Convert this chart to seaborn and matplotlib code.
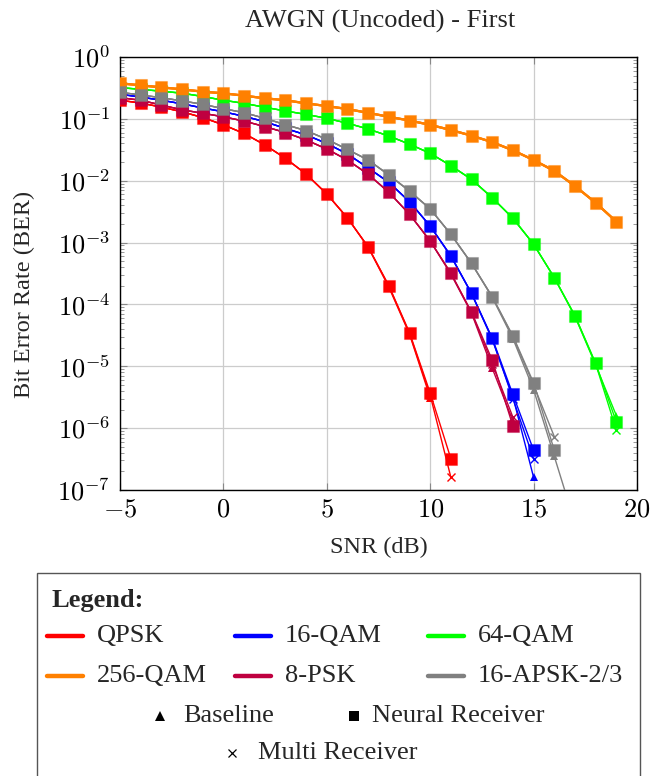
import numpy as np
import pandas as pd
import matplotlib
matplotlib.use("Agg")
import matplotlib.pyplot as plt
import seaborn as sns
from matplotlib.lines import Line2D
from matplotlib.patches import Rectangle
from matplotlib.ticker import FixedLocator, FixedFormatter, LogLocator, NullFormatter

# ---------------- data ----------------
title = "AWGN (Uncoded) - First"
modulations = ["QPSK", "16-QAM", "64-QAM", "256-QAM", "8-PSK", "16-APSK-2/3"]
colors = ["#FF0000", "#0000FF", "#00FF00", "#FF8000", "#BF0040", "#808080"]
receivers = ["Baseline", "Neural Receiver", "Multi Receiver"]

qpsk_snr = list(range(-5, 12))
qpsk_neural = [0.2, 0.18, 0.155, 0.13, 0.105, 0.08, 0.058, 0.038, 0.023, 0.0128, 0.0061, 0.0025, 0.00085, 0.0002, 3.5e-5, 3.7e-6, 3.2e-7]
qpsk_base = [0.2, 0.18, 0.155, 0.13, 0.105, 0.08, 0.058, 0.038, 0.023, 0.0128, 0.0061, 0.0025, 0.00084, 0.00019, 3.3e-5, 3.1e-6]
qpsk_multi = [0.2, 0.18, 0.155, 0.13, 0.105, 0.08, 0.058, 0.038, 0.023, 0.0128, 0.0061, 0.0025, 0.00085, 0.0002, 3.4e-5, 3.4e-6, 1.6e-7]

qam16_snr = list(range(-5, 16))
qam16_neural = [0.25, 0.225, 0.2, 0.175, 0.15, 0.13, 0.11, 0.09, 0.07, 0.055, 0.04, 0.027, 0.0161, 0.0094, 0.00458, 0.00185, 6.1e-4, 1.51e-4, 2.84e-5, 3.5e-6, 4.4e-7]
qam16_base = [0.25, 0.225, 0.2, 0.175, 0.15, 0.13, 0.11, 0.09, 0.07, 0.055, 0.04, 0.027, 0.0161, 0.0094, 0.00458, 0.00185, 6.0e-4, 1.5e-4, 2.7e-5, 3.2e-6, 1.6e-7]
qam16_multi = [0.25, 0.225, 0.2, 0.175, 0.15, 0.13, 0.11, 0.09, 0.07, 0.055, 0.04, 0.027, 0.0161, 0.0094, 0.00458, 0.00185, 6.1e-4, 1.5e-4, 2.8e-5, 3.0e-6, 3.2e-7]

qam64_snr = list(range(-5, 20))
qam64_neural = [0.32, 0.3, 0.28, 0.26, 0.23, 0.2, 0.178, 0.154, 0.134, 0.118, 0.102, 0.085, 0.0685, 0.0528, 0.039, 0.0277, 0.0175, 0.0105, 0.0053, 0.00247, 9.4e-4, 2.71e-4, 6.6e-5, 1.12e-5, 1.26e-6]
qam64_base = [0.32, 0.3, 0.28, 0.26, 0.23, 0.2, 0.178, 0.154, 0.134, 0.118, 0.102, 0.085, 0.0685, 0.0528, 0.039, 0.0277, 0.0175, 0.0105, 0.0053, 0.00247, 9.4e-4, 2.71e-4, 6.4e-5, 1.05e-5, 1.6e-6]
qam64_multi = [0.32, 0.3, 0.28, 0.26, 0.23, 0.2, 0.178, 0.154, 0.134, 0.118, 0.102, 0.085, 0.0685, 0.0528, 0.039, 0.0277, 0.0175, 0.0105, 0.0053, 0.00247, 9.4e-4, 2.71e-4, 6.5e-5, 1.1e-5, 9.3e-7]

qam256_snr = list(range(-5, 20))
qam256_neural = [0.376, 0.348, 0.323, 0.3, 0.275, 0.259, 0.237, 0.215, 0.2, 0.178, 0.161, 0.144, 0.125, 0.108, 0.094, 0.08, 0.066, 0.0535, 0.042, 0.031, 0.0216, 0.0144, 0.0082, 0.0044, 0.00218]
qam256_base = [0.376, 0.348, 0.323, 0.3, 0.275, 0.259, 0.237, 0.215, 0.2, 0.178, 0.161, 0.144, 0.125, 0.108, 0.094, 0.08, 0.066, 0.0535, 0.042, 0.031, 0.0216, 0.0144, 0.0082, 0.0044, 0.00218]
qam256_multi = [0.376, 0.348, 0.323, 0.3, 0.275, 0.259, 0.237, 0.215, 0.2, 0.178, 0.161, 0.144, 0.125, 0.108, 0.094, 0.08, 0.066, 0.0535, 0.042, 0.031, 0.0216, 0.0144, 0.0082, 0.0044, 0.00218]

psk8_snr = list(range(-5, 15))
psk8_neural = [0.22, 0.2, 0.167, 0.14, 0.123, 0.108, 0.092, 0.075, 0.06, 0.0456, 0.0325, 0.0216, 0.0127, 0.0065, 0.00287, 0.00106, 3.2e-4, 7.5e-5, 1.26e-5, 1.08e-6]
psk8_base = [0.22, 0.2, 0.167, 0.14, 0.123, 0.108, 0.092, 0.075, 0.06, 0.0456, 0.0325, 0.0216, 0.0127, 0.0065, 0.00287, 0.00106, 3.1e-4, 7.2e-5, 9.3e-6, 1.3e-6]
psk8_multi = [0.22, 0.2, 0.167, 0.14, 0.123, 0.108, 0.092, 0.075, 0.06, 0.0456, 0.0325, 0.0216, 0.0127, 0.0065, 0.00287, 0.00106, 3.2e-4, 7.4e-5, 1.1e-5, 1.5e-6]

apsk_snr = list(range(-5, 17))
apsk_neural = [0.269, 0.243, 0.22, 0.195, 0.172, 0.146, 0.126, 0.102, 0.0805, 0.0645, 0.0467, 0.032, 0.0216, 0.0124, 0.0068, 0.0035, 0.00136, 4.6e-4, 1.33e-4, 3.1e-5, 5.4e-6, 4.4e-7]
apsk_base_snr = list(range(-5, 18))
apsk_base = [0.269, 0.243, 0.22, 0.195, 0.172, 0.146, 0.126, 0.102, 0.0805, 0.0645, 0.0467, 0.032, 0.0216, 0.0124, 0.0068, 0.0035, 0.00136, 4.6e-4, 1.3e-4, 2.8e-5, 4.2e-6, 3.5e-7, 2.9e-8]
apsk_multi = [0.269, 0.243, 0.22, 0.195, 0.172, 0.146, 0.126, 0.102, 0.0805, 0.0645, 0.0467, 0.032, 0.0216, 0.0124, 0.0068, 0.0035, 0.00136, 4.6e-4, 1.33e-4, 3.0e-5, 5.0e-6, 7.3e-7]

x_ticks = [-5, 0, 5, 10, 15, 20]
x_tick_labels = ["$-5$", "$0$", "$5$", "$10$", "$15$", "$20$"]
y_ticks = [1e-7, 1e-6, 1e-5, 1e-4, 1e-3, 1e-2, 1e-1, 1e0]
y_tick_labels = ["$10^{-7}$", "$10^{-6}$", "$10^{-5}$", "$10^{-4}$", "$10^{-3}$", "$10^{-2}$", "$10^{-1}$", "$10^{0}$"]

series = {
    "QPSK": [(qpsk_snr[:len(qpsk_base)], qpsk_base), (qpsk_snr, qpsk_neural), (qpsk_snr, qpsk_multi)],
    "16-QAM": [(qam16_snr, qam16_base), (qam16_snr, qam16_neural), (qam16_snr, qam16_multi)],
    "64-QAM": [(qam64_snr, qam64_base), (qam64_snr, qam64_neural), (qam64_snr, qam64_multi)],
    "256-QAM": [(qam256_snr, qam256_base), (qam256_snr, qam256_neural), (qam256_snr, qam256_multi)],
    "8-PSK": [(psk8_snr, psk8_base), (psk8_snr, psk8_neural), (psk8_snr, psk8_multi)],
    "16-APSK-2/3": [(apsk_base_snr, apsk_base), (apsk_snr, apsk_neural), (apsk_snr, apsk_multi)],
}

# ---------------- style ----------------
sns.set_theme(style="ticks")
plt.rcParams["font.family"] = ["Liberation Serif", "DejaVu Serif"]
plt.rcParams["mathtext.fontset"] = "cm"

W, H = 669, 776
fig = plt.figure(figsize=(W / 100, H / 100), dpi=100)
ax = fig.add_axes([120 / W, 1 - 490 / H, (637 - 120) / W, (490 - 57) / H])

rec_style = {
    "Baseline": dict(marker="^", ms=6, mew=0),
    "Neural Receiver": dict(marker="s", ms=8.5, mew=0.8),
    "Multi Receiver": dict(marker="x", ms=6, mew=1.0),
}

for mod, col in zip(modulations, colors):
    lw = 1.6 if mod == "256-QAM" else 1.0
    for rec, (xs, ys) in zip(receivers, series[mod]):
        df = pd.DataFrame({"SNR": xs, "BER": ys})
        st = rec_style[rec]
        sns.lineplot(data=df, x="SNR", y="BER", ax=ax, color=col, lw=lw,
                     marker=st["marker"], markersize=st["ms"],
                     markeredgewidth=st["mew"],
                     markeredgecolor=(matplotlib.colors.to_rgba(col, 0.35) if rec == "Neural Receiver" else col),
                     markerfacecolor=col, legend=False, zorder=3,
                     clip_on=True)

ax.set_yscale("log")
ax.set_xlim(-5, 20)
ax.set_ylim(1e-7, 1e0)
ax.xaxis.set_major_locator(FixedLocator(x_ticks))
ax.xaxis.set_major_formatter(FixedFormatter(x_tick_labels))
ax.yaxis.set_major_locator(FixedLocator(y_ticks))
ax.yaxis.set_major_formatter(FixedFormatter(y_tick_labels))
ax.yaxis.set_minor_locator(LogLocator(base=10, subs=np.arange(2, 10), numticks=20))
ax.yaxis.set_minor_formatter(NullFormatter())
ax.grid(True, which="major", color="#cccccc", lw=0.9, zorder=0)
ax.set_axisbelow(True)
ax.tick_params(axis="both", which="both", direction="in", top=True, right=True, colors="#888888",
               labelcolor="black", labelsize=19)
ax.tick_params(axis="both", which="major", length=5, width=0.8)
ax.tick_params(axis="y", which="minor", length=3, width=0.6)
ax.tick_params(axis="x", which="major", pad=7)
ax.tick_params(axis="y", which="major", pad=7)
for s in ax.spines.values():
    s.set_color("black")
    s.set_linewidth(1.0)

ax.set_xlabel("SNR (dB)", fontsize=17.5)
ax.xaxis.set_label_coords(0.5, (490 - 537) / 433)
ax.set_ylabel("Bit Error Rate (BER)", fontsize=17.5)
ax.yaxis.set_label_coords((35 - 120) / 517, (490 - 294) / 433)

# ---------------- title / legend box ----------------
def fx(px):
    return px / W

def fy(py):
    return 1 - py / H

fig.text(fx(380), fy(21), title, fontsize=19, ha="center", va="center")

fig.patches.append(Rectangle((fx(37), fy(790)), fx(640) - fx(37), fy(573) - fy(790),
                             transform=fig.transFigure, facecolor="white",
                             edgecolor="#555555", lw=1.0, clip_on=False))
fig.text(fx(52), fy(600), "Legend:", fontsize=19, fontweight="bold", va="center", ha="left")

rows = [(636, modulations[:3], colors[:3]), (676, modulations[3:], colors[3:])]
col_x = [47, 235, 428]
for py, mods, cols in rows:
    for cx, m, c in zip(col_x, mods, cols):
        fig.lines.append(Line2D([fx(cx), fx(cx + 36)], [fy(py), fy(py)], color=c, lw=3.2,
                                transform=fig.transFigure))
        fig.text(fx(cx + 50), fy(py), m, fontsize=19, va="center", ha="left")

marker_items = [(160, 716, "^", 7, "Baseline", 183), (354, 716, "s", 7, "Neural Receiver", 372),
                (232, 753, "x", 5.5, "Multi Receiver", 258)]
for mx, my, mk, ms, label, tx in marker_items:
    fig.lines.append(Line2D([fx(mx)], [fy(my)], marker=mk, ms=ms, color="black", lw=0,
                            mew=0.9 if mk == "x" else 0, transform=fig.transFigure))
    fig.text(fx(tx), fy(my), label, fontsize=19, va="center", ha="left")

fig.savefig("out.png", dpi=100)
